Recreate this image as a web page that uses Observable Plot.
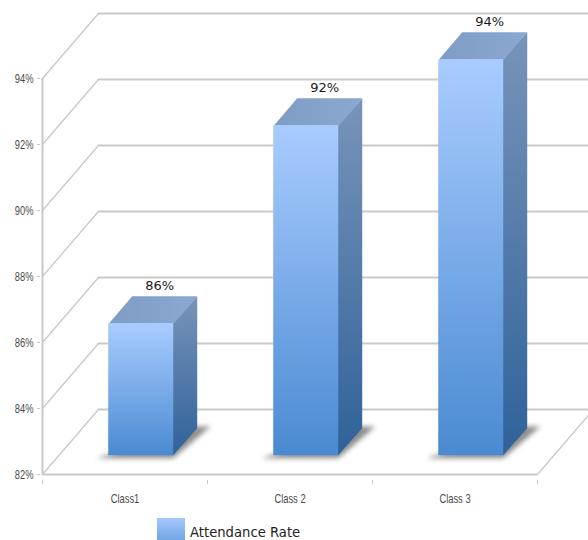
<!DOCTYPE html>
<html>
<head>
<meta charset="utf-8">
<script src="https://cdn.jsdelivr.net/npm/d3@7"></script>
<script src="https://cdn.jsdelivr.net/npm/@observablehq/plot@0.6"></script>
<style>
  html, body { margin: 0; padding: 0; background: #fff; overflow: hidden; }
  #legend { position: relative; height: 30px; font-family: "DejaVu Sans", sans-serif; }
  #legend .swatch { position: absolute; left: 157px; top: 8px; width: 28px; height: 22px;
    background: linear-gradient(#a4c8fb, #72a6e6); }
  #legend .name { position: absolute; left: 190px; top: 15px; font-size: 13.2px; color: #222; white-space: nowrap; }
</style>
</head>
<body>
<div id="chart"></div>
<div id="legend"><span class="swatch"></span><span class="name">Attendance Rate</span></div>
<script>
const classes = ["Class1", "Class 2", "Class 3"];
const attendance = [86, 92, 94];
const yTicks = [82, 84, 86, 88, 90, 92, 94];

// Oblique projection: one unit of depth moves a point right and up.
const depthX = 0.339;   // category units
const depthY = 1.97;    // percentage points
const project = (u, pct, depth) => ({x: u + depth * depthX, y: pct + depth * depthY});

const baseline = yTicks[0];
const halfBar = 0.197;
const barFront = 0.29;
const barBack = 0.71;
const seam = 0.006;     // side face tucks under the front face

const face = (id, corners) => corners.map(([u, pct, depth]) => ({id, ...project(u, pct, depth)}));

const frontFaces = [], sideFaces = [], topFaces = [], shadows = [];
classes.forEach((name, i) => {
  const v = attendance[i];
  const l = i + 0.5 - halfBar, r = i + 0.5 + halfBar;
  frontFaces.push({...project(l, baseline, barFront), x2: project(r, baseline, barFront).x, value: v, y2: project(r, v, barFront).y});
  sideFaces.push(...face(name, [[r - seam, baseline, barFront], [r, baseline, barBack], [r, v, barBack], [r - seam, v, barFront]]));
  topFaces.push(...face(name, [[l, v, barFront], [r, v, barFront], [r, v, barBack], [l, v, barBack]]));
  shadows.push(...face(name, [[l - 0.06, baseline, barFront - 0.04], [r + 0.01, baseline, barFront - 0.04], [r + 0.07, baseline, barBack + 0.03], [r - 0.02, baseline, barBack + 0.03]]));
});

const backGrid = yTicks.flatMap(t => [
  {id: t, ...project(0, t, 1)},
  {id: t, ...project(3, t, 1)}
]);
const sideGrid = yTicks.flatMap(t => [
  {id: t, ...project(0, t, 0)},
  {id: t, ...project(0, t, 1)}
]);
const floorEdge = [project(3, baseline, 0), project(3, baseline, 1)];
const labels = classes.map((name, i) => ({
  ...project(i + 0.5, attendance[i], barBack),
  text: attendance[i] + "%"
}));

// Vertical gradients shared by the bar faces.
function gradients() {
  const defs = d3.create("svg:defs");
  const add = (id, x2, y2, stops) => {
    const g = defs.append("linearGradient").attr("id", id)
      .attr("x1", 0).attr("y1", 0).attr("x2", x2).attr("y2", y2);
    stops.forEach(([o, c]) => g.append("stop").attr("offset", o).attr("stop-color", c));
  };
  add("barFrontFill", 0, 1, [[0, "#a9ccff"], [1, "#4a8ad2"]]);
  add("barSideFill", 0, 1, [[0, "#7894ba"], [1, "#2f6299"]]);
  add("barTopFill", 1, 0, [[0, "#7f9cc3"], [1, "#8aa8d1"]]);
  return defs.node();
}

const gridColor = "#c9c9c9";
const tickFont = {fontFamily: "Liberation Sans", fontSize: 13, fill: "#4a4a4a"};

const chart = Plot.plot({
  width: 588,
  height: 510,
  style: {background: "transparent", overflow: "hidden"},
  x: {type: "linear", domain: [0, 3], range: [42, 537]},
  y: {type: "linear", domain: [82, 94], range: [474, 78]},
  marks: [
    gradients,
    Plot.line(backGrid, {x: "x", y: "y", z: "id", stroke: gridColor, strokeWidth: 2}),
    Plot.line(sideGrid, {x: "x", y: "y", z: "id", stroke: gridColor, strokeWidth: 1.3}),
    Plot.line(floorEdge, {x: "x", y: "y", stroke: gridColor, strokeWidth: 1.3}),
    Plot.ruleY([baseline], {x1: 0, x2: 3, stroke: gridColor, strokeWidth: 2}),
    Plot.ruleX([0], {y1: 82, y2: 94, stroke: gridColor, strokeWidth: 2}),
    Plot.axisY({
      ticks: yTicks,
      tickFormat: d => d + "%",
      tickSize: 3,
      tickPadding: 4,
      stroke: gridColor,
      label: null,
      ...tickFont
    }),
    Plot.axisX({
      ticks: [0, 1, 2, 3],
      tickFormat: () => "",
      tickSize: 4,
      stroke: gridColor,
      label: null
    }),
    Plot.axisX({
      ticks: classes.map((d, i) => i + 0.5),
      tickFormat: d => classes[d - 0.5],
      tickSize: 0,
      tickPadding: 13,
      label: null,
      ...tickFont
    }),
    Plot.line(shadows, {x: "x", y: "y", z: "id", fill: "#8c8c8c", stroke: "none", imageFilter: "blur(2.5px)"}),
    Plot.line(sideFaces, {x: "x", y: "y", z: "id", fill: "url(#barSideFill)", stroke: "none"}),
    Plot.line(topFaces, {x: "x", y: "y", z: "id", fill: "url(#barTopFill)", stroke: "none"}),
    Plot.rectY(frontFaces, {x1: "x", x2: "x2", y1: "y", y2: "y2", fill: "url(#barFrontFill)"}),
    Plot.text(labels, {
      x: "x", y: "y", text: "text", dx: -5, dy: -11,
      fontFamily: "DejaVu Sans", fontSize: 13, fill: "#1a1a1a"
    })
  ]
});
document.getElementById("chart").append(chart);

// The axis labels are set in a condensed width.
chart.querySelectorAll('[aria-label$="tick label"] text').forEach(t => {
  if (!t.textContent) return;
  t.setAttribute("textLength", (t.getComputedTextLength() * 0.72).toFixed(1));
  t.setAttribute("lengthAdjust", "spacingAndGlyphs");
});
</script>
</body>
</html>
